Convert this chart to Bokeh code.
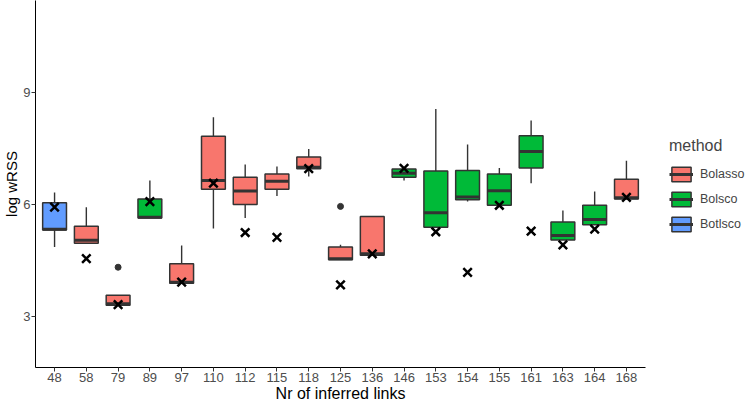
from bokeh.plotting import figure
from bokeh.models import (ColumnDataSource, FactorRange, Range1d, FixedTicker, Legend, LegendItem)
from bokeh.transform import dodge
from bokeh.embed import file_html
from bokeh.resources import INLINE

links = ["48", "58", "79", "89", "97", "110", "112", "115", "118", "125", "136",
         "146", "153", "154", "155", "161", "163", "164", "168"]
method = ["Botlsco", "Bolasso", "Bolasso", "Bolsco", "Bolasso", "Bolasso", "Bolasso",
          "Bolasso", "Bolasso", "Bolasso", "Bolasso", "Bolsco", "Bolsco", "Bolsco",
          "Bolsco", "Bolsco", "Bolsco", "Bolsco", "Bolasso"]
lower = [4.86, 4.96, 3.30, 5.64, 3.89, 5.36, 5.64, 6.23, 6.75, 4.52, 4.64, 6.64, 5.39, 6.08, 5.98, 6.57, 5.05, 5.46, 6.15]
q1 = [5.32, 4.96, 3.30, 5.64, 3.89, 6.41, 6.00, 6.41, 6.96, 4.52, 4.64, 6.73, 5.39, 6.13, 5.98, 6.98, 5.05, 5.46, 6.15]
median = [5.34, 5.04, 3.34, 5.66, 3.92, 6.64, 6.36, 6.62, 7.00, 4.55, 4.68, 6.84, 5.78, 6.20, 6.37, 7.42, 5.17, 5.60, 6.18]
q3 = [6.05, 5.42, 3.57, 6.15, 4.41, 7.83, 6.73, 6.82, 7.27, 4.86, 5.68, 6.95, 6.90, 6.91, 6.82, 7.84, 5.53, 5.98, 6.68]
upper = [6.32, 5.93, 3.57, 6.64, 4.90, 8.34, 7.07, 7.02, 7.49, 4.92, 5.68, 6.95, 8.56, 7.61, 6.98, 8.25, 5.84, 6.35, 7.17]
cross = [5.93, 4.55, 3.32, 6.08, 3.92, 6.57, 5.25, 5.12, 6.96, 3.85, 4.68, 6.97, 5.27, 4.18, 5.98, 5.29, 4.92, 5.34, 6.19]
outlier_links = ["79", "125"]
outlier_vals = [4.32, 5.95]

methods = ["Bolasso", "Bolsco", "Botlsco"]
colors = {"Bolasso": "#F8766D", "Bolsco": "#00BA38", "Botlsco": "#619CFF"}
y_ticks = [3, 6, 9]

FONT = "Liberation Sans"
EDGE = "#333333"

p = figure(frame_width=610, frame_height=367, output_backend="svg", toolbar_location=None,
           x_range=FactorRange(factors=links, range_padding=0.1, range_padding_units="absolute"),
           y_range=Range1d(1.634, 11.465),
           min_border_top=0, min_border_left=0, min_border_bottom=0, min_border_right=104,
           outline_line_color=None, background_fill_color="white")
p.xgrid.visible = False
p.ygrid.visible = False

items = []
for m in methods:
    idx = [i for i, mm in enumerate(method) if mm == m]
    src = ColumnDataSource(dict(
        x=[links[i] for i in idx], lower=[lower[i] for i in idx], q1=[q1[i] for i in idx],
        med=[median[i] for i in idx], q3=[q3[i] for i in idx], upper=[upper[i] for i in idx]))
    p.segment(x0="x", y0="q3", x1="x", y1="upper", source=src, line_color=EDGE, line_width=1.4)
    p.segment(x0="x", y0="q1", x1="x", y1="lower", source=src, line_color=EDGE, line_width=1.4)
    box = p.vbar(x="x", top="q3", bottom="q1", width=0.75, source=src,
                 fill_color=colors[m], line_color=EDGE, line_width=1.5)
    med = p.segment(x0=dodge("x", -0.375, range=p.x_range), y0="med",
                    x1=dodge("x", 0.375, range=p.x_range), y1="med",
                    source=src, line_color=EDGE, line_width=3)
    items.append(LegendItem(label=m, renderers=[box, med]))

p.scatter(x=outlier_links, y=outlier_vals, size=6, color="#333333")
p.scatter(x=links, y=cross, marker="x", size=12, line_color="black", line_width=2.5)

for ax in (p.xaxis[0], p.yaxis[0]):
    ax.axis_line_color = "black"
    ax.axis_line_width = 1
    ax.major_tick_line_color = EDGE
    ax.major_tick_out = 4
    ax.major_tick_in = 0
    ax.minor_tick_line_color = None
    ax.major_label_text_color = "#4D4D4D"
    ax.major_label_text_font = FONT
    ax.major_label_text_font_size = "13px"
    ax.axis_label_text_font = FONT
    ax.axis_label_text_font_style = "normal"
    ax.axis_label_text_color = "black"
    ax.major_label_standoff = 1
    ax.axis_label_standoff = 0

p.xaxis.axis_label = "Nr of inferred links"
p.xaxis.axis_label_text_font_size = "16px"
p.yaxis.axis_label = "log wRSS"
p.yaxis.axis_label_text_font_size = "15px"
p.yaxis.ticker = FixedTicker(ticks=y_ticks)

legend = Legend(items=items, location=(24, 134), title="method",
                title_text_font=FONT, title_text_font_size="16px", title_text_font_style="normal",
                label_text_font=FONT, label_text_font_size="12.5px",
                glyph_width=24, glyph_height=18, label_standoff=7, spacing=7,
                title_standoff=10, border_line_color=None, background_fill_alpha=0,
                padding=2, margin=0)
p.add_layout(legend, "right")

open("out.html", "w").write(file_html(p, INLINE))
